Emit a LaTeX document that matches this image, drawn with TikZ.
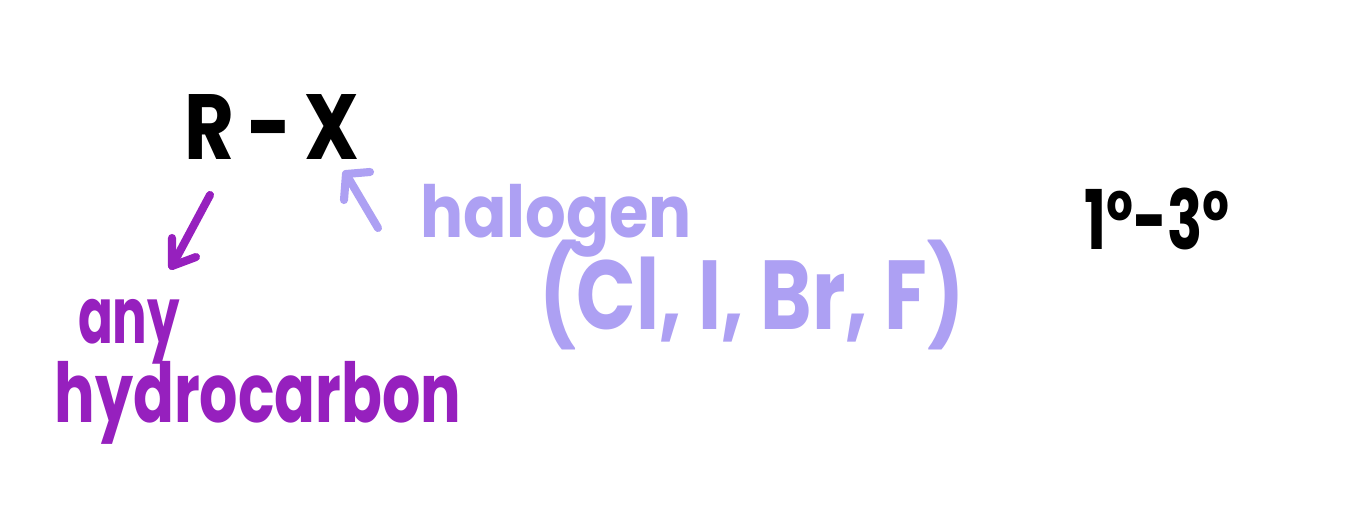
\documentclass[tikz,border=0pt]{standalone}
\usepackage{fontspec}
\setmainfont{Poppins}
\usepackage{graphicx}
\definecolor{inkpurple}{HTML}{9620BE}
\definecolor{inklav}{HTML}{ADA0F3}
\begin{document}
\begin{tikzpicture}[x=0.02cm,y=-0.02cm,
  hand/.style={inner sep=0pt,outer sep=0pt,font=\bfseries},
  stroke/.style={line width=4.6pt,line cap=round,line join=round}]
\useasboundingbox[fill=white] (0,0) rectangle (1371,517);
% R - X
\node[hand,text=black] (rx) at (272,127) {\resizebox*{3.5cm}{1.3cm}{R\,-\,X}};
% purple arrow
\coordinate (pa) at (210,195);
\coordinate (pb) at (172,266);
\coordinate (pl) at (172,238);
\coordinate (pr) at (196,257);
\draw[stroke,inkpurple] (pa) -- (pb);
\draw[stroke,inkpurple] (pl) -- (pb) -- (pr);
\node[hand,text=inkpurple] (any) at (129,332) {\resizebox*{2.04cm}{1.3cm}{any}};
\node[hand,text=inkpurple] (hc) at (258,403) {\resizebox*{8.14cm}{1.66cm}{hydrocarbon}};
% lavender arrow
\coordinate (la) at (378,228);
\coordinate (lb) at (346,174);
\coordinate (ll) at (344,200);
\coordinate (lr) at (370,172);
\draw[stroke,inklav] (la) -- (lb);
\draw[stroke,inklav] (ll) -- (lb) -- (lr);
\node[hand,text=inklav] (hal) at (556,221) {\resizebox*{5.44cm}{1.46cm}{halogen}};
\node[hand,text=inklav] (list) at (752,295) {\resizebox*{8.5cm}{2.2cm}{(Cl, I, Br, F)}};
% degrees
\node[hand,text=black] (deg) at (1157,219) {\resizebox*{2.9cm}{1.24cm}{1°-3°}};
\end{tikzpicture}
\end{document}
